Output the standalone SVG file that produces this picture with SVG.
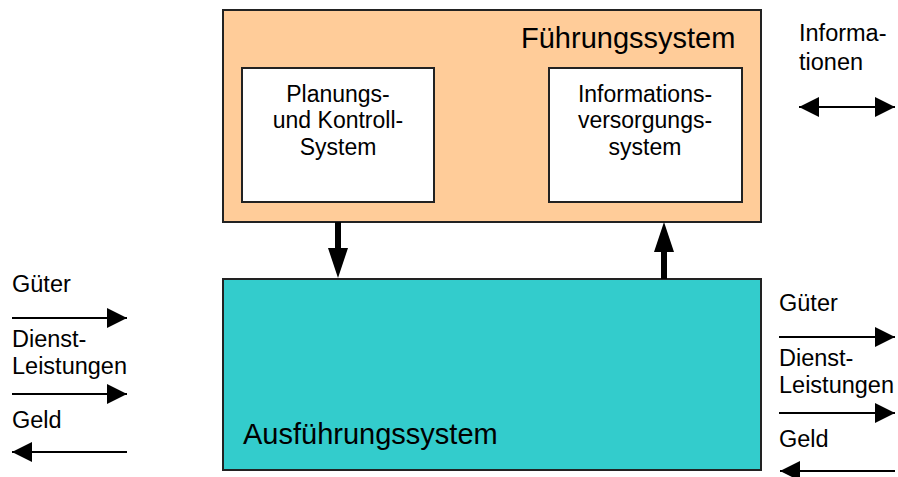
<svg xmlns="http://www.w3.org/2000/svg" width="898" height="477" viewBox="0 0 898 477">
<defs>
<style>
text{font-family:"Liberation Sans",Arial,sans-serif;fill:#000}
.lbl{font-size:23px}
.side{font-size:23.5px}
.big{font-size:29px}
.c{text-anchor:middle}
.box{stroke:#222;stroke-width:2}
.ln{stroke:#000;stroke-width:2;fill:none}
.thick{stroke:#000;stroke-width:6;fill:none}
.head{fill:#000}
</style>
<marker id="ah" viewBox="0 0 20 20" refX="20" refY="10" markerWidth="20" markerHeight="20" markerUnits="userSpaceOnUse" orient="auto-start-reverse">
<path d="M0,0 L20,10 L0,20 Z" fill="#000"/>
</marker>
</defs>
<rect width="898" height="477" fill="#fff"/>
<g id="fuehrungssystem">
<rect class="box" x="223" y="10" width="538" height="212" fill="#FFCC99"/>
<text class="big" x="521" y="48">Führungssystem</text>
</g>
<g id="planung">
<rect class="box" x="242" y="68" width="192" height="134" fill="#fff"/>
<text class="lbl c" x="338" y="102">Planungs-</text>
<text class="lbl c" x="338" y="128">und Kontroll-</text>
<text class="lbl c" x="338" y="155">System</text>
</g>
<g id="informationsversorgung">
<rect class="box" x="549" y="68" width="193" height="134" fill="#fff"/>
<text class="lbl c" x="645" y="102">Informations-</text>
<text class="lbl c" x="645" y="128">versorgungs-</text>
<text class="lbl c" x="645" y="155">system</text>
</g>
<g id="ausfuehrungssystem">
<rect class="box" x="223" y="279" width="538" height="191" fill="#33CCCC"/>
<text class="big" x="243" y="444">Ausführungssystem</text>
</g>
<g id="labels">
<text class="side" x="799" y="41">Informa-</text>
<text class="side" x="799" y="70">tionen</text>
<text class="side" x="12" y="292">Güter</text>
<text class="side" x="12" y="347">Dienst-</text>
<text class="side" x="12" y="374">Leistungen</text>
<text class="side" x="12" y="428">Geld</text>
<text class="side" x="779" y="311">Güter</text>
<text class="side" x="779" y="366">Dienst-</text>
<text class="side" x="779" y="393">Leistungen</text>
<text class="side" x="779" y="447">Geld</text>
</g>
<g id="connectors">
<line class="thick" x1="338" y1="222" x2="338" y2="250"/>
<path class="head" d="M328,248 L348,248 L338,278 Z"/>
<line class="thick" x1="664" y1="279" x2="664" y2="250"/>
<path class="head" d="M654,252 L674,252 L664,222 Z"/>
<line class="ln" x1="799" y1="107" x2="895" y2="107" marker-start="url(#ah)" marker-end="url(#ah)"/>
<line class="ln" x1="12" y1="318" x2="127" y2="318" marker-end="url(#ah)"/>
<line class="ln" x1="12" y1="394" x2="127" y2="394" marker-end="url(#ah)"/>
<line class="ln" x1="127" y1="452" x2="12" y2="452" marker-end="url(#ah)"/>
<line class="ln" x1="779" y1="337" x2="895" y2="337" marker-end="url(#ah)"/>
<line class="ln" x1="779" y1="413" x2="895" y2="413" marker-end="url(#ah)"/>
<line class="ln" x1="895" y1="471" x2="780" y2="471" marker-end="url(#ah)"/>
</g>
</svg>
